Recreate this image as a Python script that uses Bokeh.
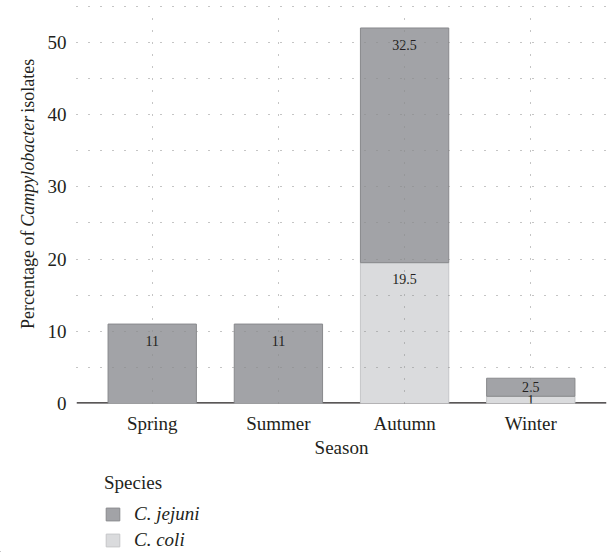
from math import pi

from bokeh.plotting import figure
from bokeh.layouts import row, column
from bokeh.models import (ColumnDataSource, FactorRange, Range1d, FixedTicker,
                          Span, Legend, LegendItem)
from bokeh.core.properties import value
from bokeh.embed import file_html
from bokeh.resources import INLINE

# ---- data -------------------------------------------------------------
seasons = ["Spring", "Summer", "Autumn", "Winter"]
species = ["C. jejuni", "C. coli"]
c_jejuni = [11, 11, 32.5, 2.5]
c_coli = [0, 0, 19.5, 1]
y_ticks = [0, 10, 20, 30, 40, 50]
y_title = ["Percentage of", "Campylobacter", "isolates"]
y_title_styles = ["normal", "italic", "normal"]
x_title = "Season"
legend_title = "Species"

# ---- style ------------------------------------------------------------
FONT = "Liberation Serif"
TXT = "#231f20"
DARK_FILL, DARK_LINE = "#a2a3a7", "#88898c"
LIGHT_FILL, LIGHT_LINE = "#dadbdd", "#c5c6c8"
GRID = "#8a8a8a"
W = 608
TOP_H = 460          # chart part
LEG_H = 552 - TOP_H  # legend strip
LEFT_W = 40          # y-title strip
FRAME_H = 398        # plot frame height (page y 8 .. 406)

src = ColumnDataSource(dict(season=seasons, coli=c_coli, jejuni=c_jejuni))

p = figure(width=W - LEFT_W, height=TOP_H,
           x_range=FactorRange(factors=seasons, range_padding=0.05,
                               range_padding_units="percent"),
           y_range=Range1d(0, 54.7),
           output_backend="svg", toolbar_location=None,
           min_border_left=76 - LEFT_W, min_border_right=2,
           min_border_top=8, min_border_bottom=TOP_H - 8 - FRAME_H)
p.outline_line_color = None
p.background_fill_color = "white"
p.border_fill_color = "white"

# baseline under the bars
p.add_layout(Span(location=0, dimension="width", line_color=TXT,
                  line_width=2.5, level="underlay"))

bars = p.vbar_stack(["coli", "jejuni"], x="season", width=0.7, source=src,
                    fill_color=[LIGHT_FILL, DARK_FILL],
                    line_color=[LIGHT_LINE, DARK_LINE], line_width=1)

# value labels
lab_x, lab_y, lab_t = [], [], []
for s, c, j in zip(seasons, c_coli, c_jejuni):
    bottom = 0
    for v in (c, j):
        if v > 0:
            top = bottom + v
            lab_x.append(s)
            lab_y.append(top - 2.3 if v >= 5 else (bottom + top) / 2)
            lab_t.append(f"{v:g}")
        bottom += v
p.text(x=lab_x, y=lab_y, text=lab_t, text_align="center",
       text_baseline="middle", text_font=value(FONT),
       text_font_size="14px", text_color=TXT)

# axes
p.yaxis.ticker = FixedTicker(ticks=y_ticks, minor_ticks=[t + 5 for t in y_ticks])
for ax in (p.xaxis[0], p.yaxis[0]):
    ax.axis_line_color = None
    ax.major_tick_line_color = None
    ax.minor_tick_line_color = None
    ax.major_tick_out = 0
    ax.major_tick_in = 0
    ax.minor_tick_out = 0
    ax.minor_tick_in = 0
    ax.major_label_text_font = FONT
    ax.major_label_text_font_size = "19px"
    ax.major_label_text_color = TXT
p.yaxis.major_label_standoff = 10
p.xaxis.major_label_standoff = 9
p.xaxis.axis_label = x_title
p.xaxis.axis_label_text_font = FONT
p.xaxis.axis_label_text_font_size = "19px"
p.xaxis.axis_label_text_font_style = "normal"
p.xaxis.axis_label_text_color = TXT
p.xaxis.axis_label_standoff = 0

# dotted grid over the bars
for g in (p.xgrid[0], p.ygrid[0]):
    g.grid_line_color = GRID
    g.grid_line_dash = "1 11"
    g.grid_line_width = 1
    g.level = "guide"
p.ygrid.minor_grid_line_color = GRID
p.ygrid.minor_grid_line_dash = "1 11"


def strip(width, height, y_span):
    f = figure(width=width, height=height, x_range=Range1d(0, width),
               y_range=Range1d(0, y_span), output_backend="svg",
               toolbar_location=None, x_axis_location=None,
               y_axis_location=None, min_border=0)
    f.outline_line_color = None
    f.grid.visible = False
    f.background_fill_color = "white"
    f.border_fill_color = "white"
    return f


# y title (mixed roman / italic) in a narrow strip to the left;
# its frame is aligned with the plot frame (page y 8 .. 406)
t = strip(LEFT_W, TOP_H, FRAME_H)
title_y = [406 - 331, 406 - 228, 406 - 113]
t.text(x=[27] * 3, y=title_y, text=y_title, angle=pi / 2,
       text_align="left", text_baseline="middle",
       text_font=value(FONT), text_font_size="18px",
       text_font_style=y_title_styles, text_color=TXT)

# legend strip below (swatch renderers sit outside the visible range)
lf = strip(W, LEG_H, LEG_H)
sw_j = lf.vbar(x=[-50], top=[1], width=1, fill_color=DARK_FILL,
               line_color=DARK_LINE)
sw_c = lf.vbar(x=[-50], top=[1], width=1, fill_color=LIGHT_FILL,
               line_color=LIGHT_LINE)
legend = Legend(items=[LegendItem(label=species[0], renderers=[sw_j]),
                       LegendItem(label=species[1], renderers=[sw_c])],
                location=(104, 1), title=legend_title,
                title_text_font=FONT, title_text_font_size="19px",
                title_text_font_style="normal", title_text_color=TXT,
                title_standoff=9,
                label_text_font=FONT, label_text_font_size="19px",
                label_text_font_style="italic", label_text_color=TXT,
                glyph_width=17, glyph_height=16, label_standoff=13,
                spacing=4, padding=0, margin=0,
                border_line_color=None, background_fill_alpha=0)
lf.add_layout(legend)

layout = column(row(t, p, spacing=0), lf, spacing=0)
open("out.html", "w").write(file_html(layout, INLINE))
